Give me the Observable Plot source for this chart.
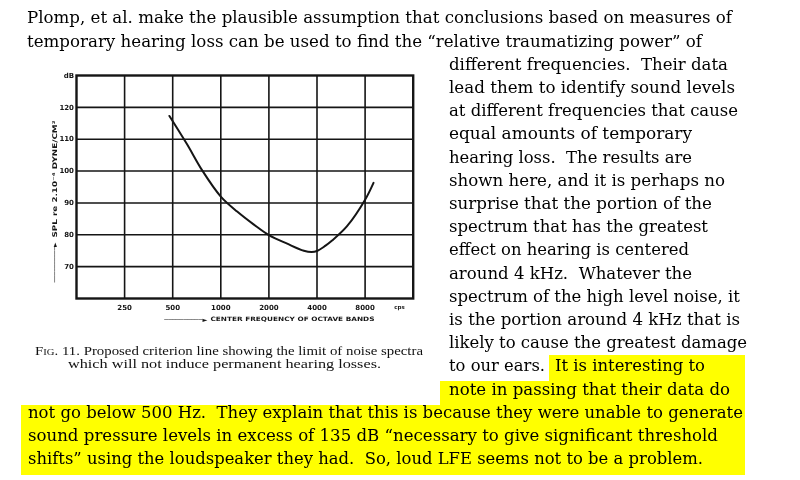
<!DOCTYPE html>
<html><head><meta charset="utf-8">
<script src="https://cdn.jsdelivr.net/npm/d3@7"></script>
<script src="https://cdn.jsdelivr.net/npm/@observablehq/plot@0.6"></script>
<style>
html,body{margin:0;padding:0;background:#fff;width:800px;height:480px;overflow:hidden;}
#page{position:relative;width:800px;height:480px;}
.ln{position:absolute;white-space:pre;font-family:"DejaVu Serif";font-size:16px;line-height:20px;color:#000;transform-origin:0 0;z-index:2;}
.cap{position:absolute;white-space:pre;font-family:"Liberation Serif";font-size:12.5px;line-height:14px;color:#111;transform-origin:0 0;z-index:2;}
.hl{position:absolute;background:#ffff00;z-index:1;}
#chart{position:absolute;left:0;top:60px;z-index:2;filter:grayscale(1);}
</style></head>
<body><div id="page"><div id="chart"></div></div>
<script>
// ---- chart data ----
const freqTicks = [250, 500, 1000, 2000, 4000, 8000];
const splTicks = [70, 80, 90, 100, 110, 120];
const splTopLabel = "dB";
const curveFreq = [477, 615, 763, 1000, 1266, 1611, 2000, 2604, 3309, 3700, 4000, 4500, 4970, 6168, 8000, 9030];
const curveSPL  = [117.3, 108.4, 100.3, 92.0, 87.3, 83.2, 79.9, 77.2, 75.0, 74.6, 74.9, 76.5, 78.2, 82.7, 91.0, 96.3];
const xTitle = "CENTER FREQUENCY OF OCTAVE BANDS";
const yTitle = "SPL re 2.10⁻⁴ DYNE/CM²";
const unitLabel = "cps";
const arrowGlyph = "──────────►";

// ---- slide text ----
const textLines = [
  "Plomp, et al. make the plausible assumption that conclusions based on measures of",
  "temporary hearing loss can be used to find the “relative traumatizing power” of",
  "different frequencies.  Their data",
  "lead them to identify sound levels",
  "at different frequencies that cause",
  "equal amounts of temporary",
  "hearing loss.  The results are",
  "shown here, and it is perhaps no",
  "surprise that the portion of the",
  "spectrum that has the greatest",
  "effect on hearing is centered",
  "around 4 kHz.  Whatever the",
  "spectrum of the high level noise, it",
  "is the portion around 4 kHz that is",
  "likely to cause the greatest damage",
  "to our ears.",
  "It is interesting to",
  "note in passing that their data do",
  "not go below 500 Hz.  They explain that this is because they were unable to generate",
  "sound pressure levels in excess of 135 dB “necessary to give significant threshold",
  "shifts” using the loudspeaker they had.  So, loud LFE seems not to be a problem."
];
// layout: [left, baseline, right]
const textLayout = [
  [27, 23.3, 732], [27, 46.5, 702], [449, 69.7, 728], [449, 92.9, 735], [449, 116.1, 738],
  [449, 139.3, 692], [449, 162.5, 692], [449, 185.7, 725], [449, 208.9, 712], [449, 232.1, 708],
  [449, 255.3, 689], [449, 278.5, 692], [449, 301.7, 740], [449, 324.9, 740], [449, 348.1, 747],
  [449, 371.3, 545], [555, 371.3, 705], [449, 394.5, 730], [28, 417.7, 743], [28, 440.9, 718], [28, 464.1, 703]
];
const highlightRects = [[549, 355, 196, 26], [440, 381, 305, 24], [21, 405, 724, 70]];

const captionLines = [
  ["Fig.", " 11. Proposed criterion line showing the limit of noise spectra"],
  ["", "which will not induce permanent hearing losses."]
];
const captionLayout = [[35, 355, 423], [68, 367.5, 381]];

const page = document.getElementById("page");

for (const [x, y, w, h] of highlightRects) {
  const d = document.createElement("div");
  d.className = "hl";
  Object.assign(d.style, {left: x + "px", top: y + "px", width: w + "px", height: h + "px"});
  page.appendChild(d);
}

function place(div, x, baseline, right) {
  const probe = document.createElement("span");
  Object.assign(probe.style, {display: "inline-block", width: "0px", height: "0px", verticalAlign: "baseline"});
  div.appendChild(probe);
  div.style.left = x + "px";
  div.style.top = "0px";
  page.appendChild(div);
  const bo = probe.offsetTop;
  const w = div.getBoundingClientRect().width;
  div.style.top = (baseline - bo) + "px";
  div.style.transform = `scaleX(${(right - x) / w})`;
}

textLines.forEach((t, i) => {
  const d = document.createElement("div");
  d.className = "ln";
  d.textContent = t;
  const [x, b, r] = textLayout[i];
  place(d, x, b, r);
});

captionLines.forEach(([sc, rest], i) => {
  const d = document.createElement("div");
  d.className = "cap";
  if (sc) {
    const s = document.createElement("span");
    s.style.fontVariant = "small-caps";
    s.textContent = sc;
    d.appendChild(s);
  }
  d.appendChild(document.createTextNode(rest));
  const [x, b, r] = captionLayout[i];
  place(d, x, b, r);
});

// ---- chart ----
const curve = curveFreq.map((f, i) => ({freq: f, spl: curveSPL[i]}));
const ink = "#151515";
const chart = Plot.plot({
  width: 440, height: 280,
  marginLeft: 76, marginRight: 27.3, marginTop: 15, marginBottom: 42,
  x: {type: "log", domain: [125, 16000], axis: null},
  y: {domain: [60, 130]},
  style: {background: "transparent", fontFamily: "DejaVu Sans", color: ink, overflow: "visible"},
  marks: [
    Plot.ruleX(freqTicks, {stroke: ink, strokeWidth: 1.6}),
    Plot.ruleY(splTicks, {stroke: ink, strokeWidth: 1.6}),
    Plot.frame({stroke: ink, strokeWidth: 2.4}),
    Plot.line(curve, {x: "freq", y: "spl", curve: "catmull-rom", stroke: ink, strokeWidth: 2}),
    Plot.text(freqTicks, {x: d => d, text: d => String(d), frameAnchor: "bottom", textAnchor: "middle", lineAnchor: "middle", dy: 9, fontSize: 7, fontWeight: "bold", fill: ink}),
    Plot.axisY({ticks: [...splTicks, 130], tickSize: 0, tickPadding: 2.5, tickFormat: d => d === 130 ? splTopLabel : String(d), fontSize: 7, fontWeight: "bold", label: null}),
    Plot.text([unitLabel], {text: d => d, frameAnchor: "bottom-right", textAnchor: "middle", lineAnchor: "middle", dx: -13.7, dy: 9, fontSize: 5.5, fontWeight: "bold", fill: ink}),
    Plot.text([arrowGlyph], {text: d => d, frameAnchor: "bottom", textAnchor: "middle", lineAnchor: "middle", dx: -59, dy: 21, fontSize: 6.5, fontWeight: "bold", fill: ink}),
    Plot.text([xTitle], {text: d => d, frameAnchor: "bottom", textAnchor: "middle", lineAnchor: "middle", dx: 47.6, dy: 21, fontSize: 6, fontWeight: "bold", fill: ink}),
    Plot.text([arrowGlyph], {text: d => d, frameAnchor: "left", rotate: -90, textAnchor: "middle", lineAnchor: "middle", dx: -22, dy: 75.5, fontSize: 6.5, fontWeight: "bold", fill: ink}),
    Plot.text([yTitle], {text: d => d, frameAnchor: "left", rotate: -90, textAnchor: "middle", lineAnchor: "middle", dx: -22, dy: -8, fontSize: 6.5, fontWeight: "bold", fill: ink})
  ]
});
document.getElementById("chart").appendChild(chart);

// fit annotation text lengths
const fitLen = {[xTitle]: 164, [yTitle]: 117};
d3.select(chart).selectAll("text").each(function() {
  const t = this.textContent;
  if (fitLen[t]) d3.select(this).attr("textLength", fitLen[t]).attr("lengthAdjust", "spacingAndGlyphs");
});
let arrowIdx = 0;
d3.select(chart).selectAll("text").filter(function() { return this.textContent === arrowGlyph; }).each(function() {
  d3.select(this).attr("textLength", arrowIdx === 0 ? 43 : 40).attr("lengthAdjust", "spacingAndGlyphs");
  arrowIdx++;
});
</script>
</body></html>
